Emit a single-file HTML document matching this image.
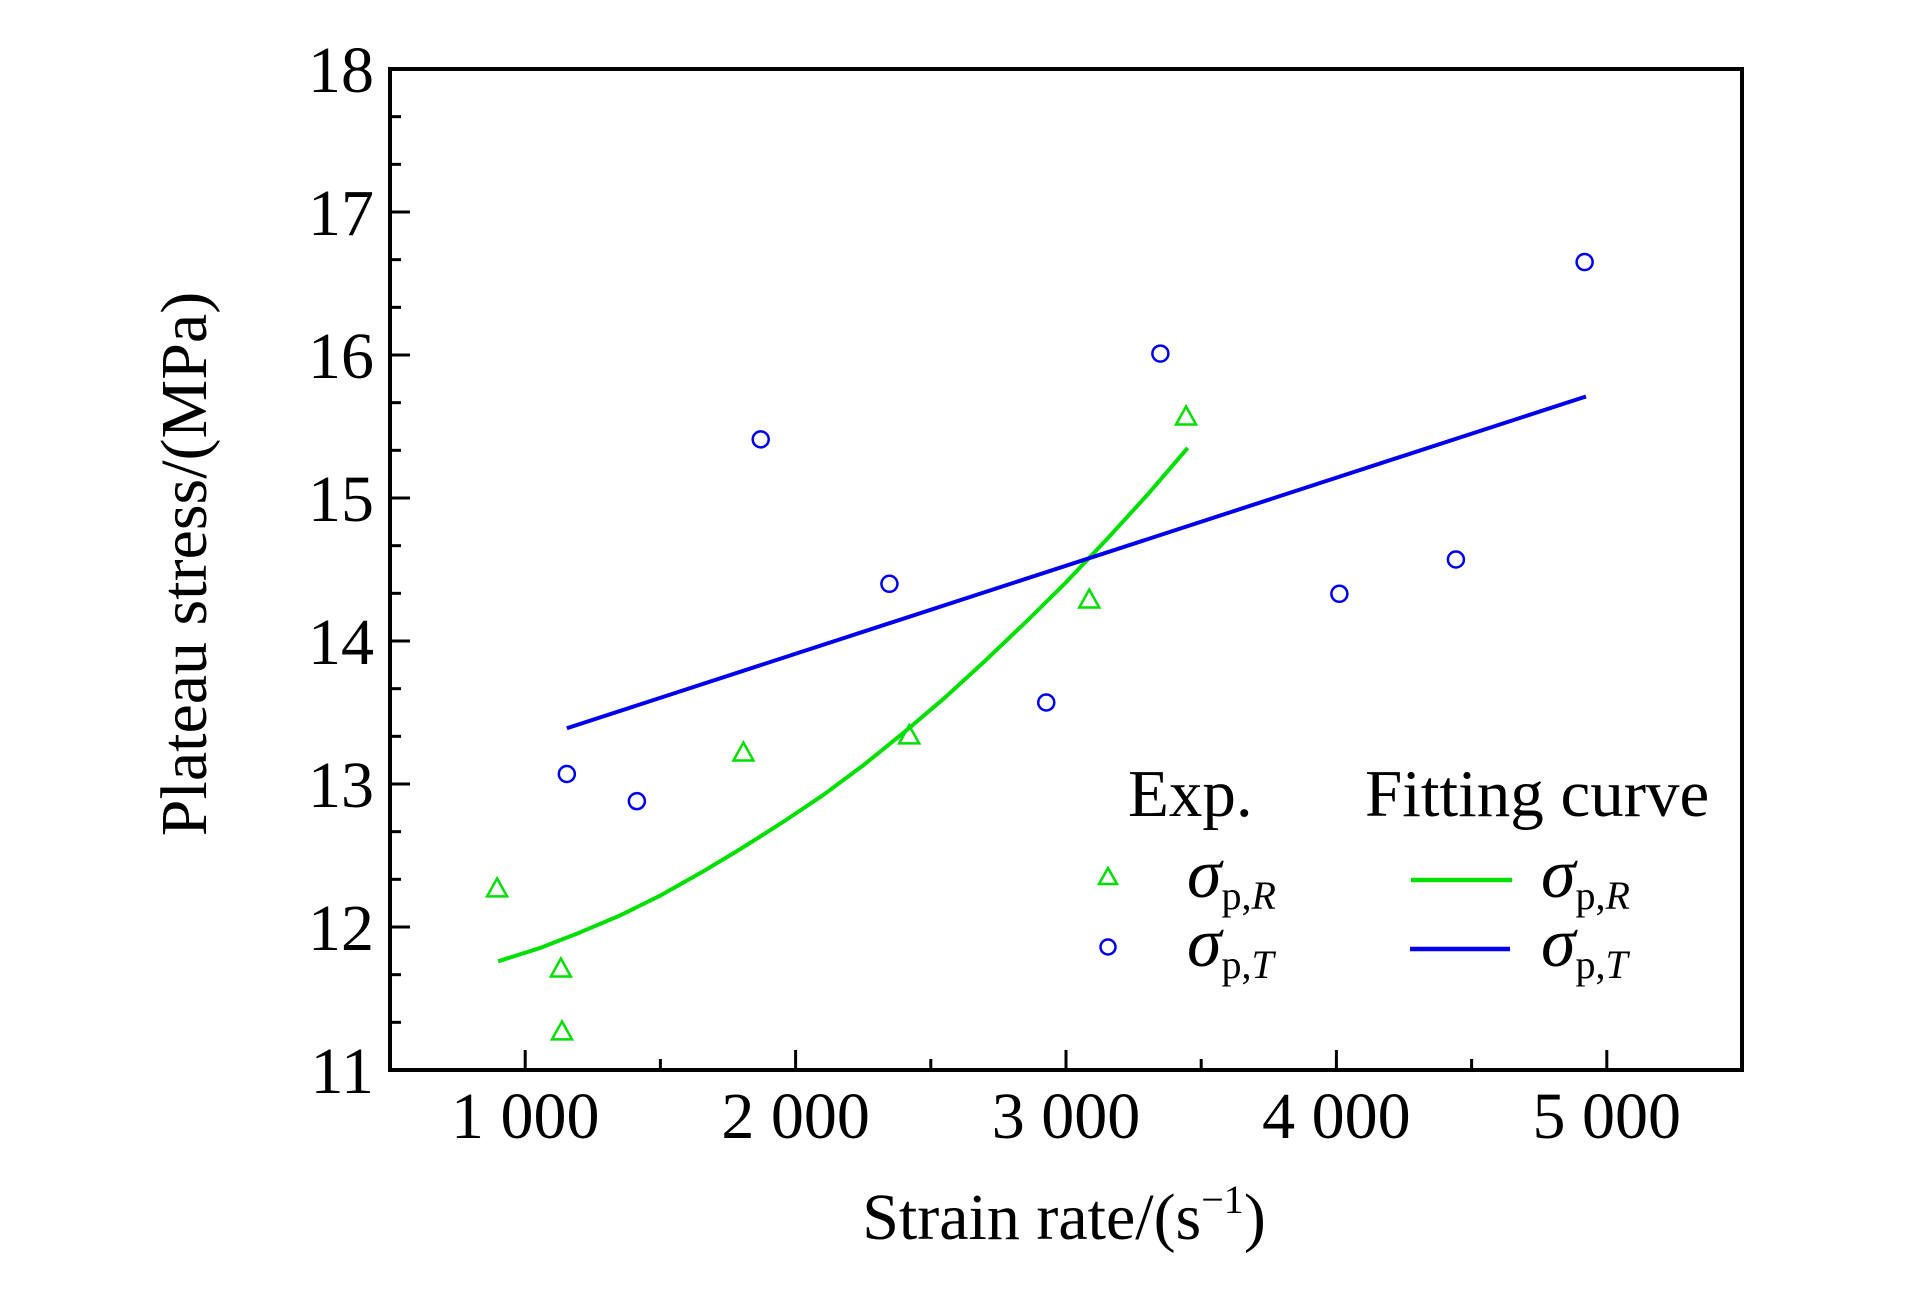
<!DOCTYPE html>
<html><head><meta charset="utf-8"><style>
html,body{margin:0;padding:0;background:#fff;}
svg{display:block;font-family:"Liberation Serif",serif;}
</style></head><body>
<svg id="chart" width="1923" height="1299" viewBox="0 0 1923 1299">
<g id="ticks"></g>
<g id="marks"></g>
<rect x="390" y="69" width="1352" height="1001" fill="none" stroke="#000" stroke-width="4"/>
<text x="1064" y="1239" font-size="66" text-anchor="middle">Strain rate/(s<tspan dy="-26" font-size="40">−1</tspan><tspan dy="26">)</tspan></text>
<text transform="translate(206,564) rotate(-90)" font-size="66" text-anchor="middle">Plateau stress/(MPa)</text>
<g>
<text x="1128" y="816" font-size="67">Exp.</text>
<text x="1365" y="816" font-size="67">Fitting curve</text>
<polygon points="1108,868 1117,884 1099,884" fill="none" stroke="#00e000" stroke-width="2.5"/>
<circle cx="1108" cy="947" r="7.5" fill="none" stroke="#0000ee" stroke-width="2.5"/>
<text x="1187" y="897" font-size="70" font-style="italic">σ<tspan dy="12" font-size="40" font-style="normal">p,<tspan font-style="italic">R</tspan></tspan></text>
<text x="1187" y="966" font-size="70" font-style="italic">σ<tspan dy="12" font-size="40" font-style="normal">p,<tspan font-style="italic">T</tspan></tspan></text>
<line x1="1411" y1="880" x2="1512" y2="880" stroke="#00e000" stroke-width="4.5"/>
<line x1="1410" y1="949" x2="1510" y2="949" stroke="#0000ee" stroke-width="4.5"/>
<text x="1541" y="897" font-size="70" font-style="italic">σ<tspan dy="12" font-size="40" font-style="normal">p,<tspan font-style="italic">R</tspan></tspan></text>
<text x="1541" y="966" font-size="70" font-style="italic">σ<tspan dy="12" font-size="40" font-style="normal">p,<tspan font-style="italic">T</tspan></tspan></text>
</g>
</svg>
<script>
const xTicks=[1000,2000,3000,4000,5000];
const xTickLabels=["1 000","2 000","3 000","4 000","5 000"];
const yTicks=[11,12,13,14,15,16,17,18];
const rX=[896,1132,1136,1807,2420,3086,3444];
const rY=[12.27,11.71,11.27,13.22,13.34,14.29,15.57];
const tX=[1154,1413,1871,2347,2927,3349,4011,4442,4918];
const tY=[13.07,12.88,15.41,14.40,13.57,16.01,14.33,14.57,16.65];
const fitRX=[900,1050,1200,1350,1500,1650,1800,1950,2100,2250,2400,2550,2700,2850,3000,3150,3300,3450];
const fitRY=[11.76,11.85,11.96,12.08,12.22,12.38,12.55,12.73,12.92,13.13,13.36,13.60,13.86,14.13,14.41,14.71,15.02,15.35];
const fitTX=[1154,4923];
const fitTY=[13.39,15.71];

const X0=390,X1=1742,Y0=1070,Y1=69;
function sx(v){return X0+(v-500)/(5500-500)*(X1-X0);}
function sy(v){return Y0-(v-11)/(18-11)*(Y0-Y1);}
const NS="http://www.w3.org/2000/svg";
function mk(t,a,p){const e=document.createElementNS(NS,t);for(const k in a)e.setAttribute(k,a[k]);p.appendChild(e);return e;}
const tg=document.getElementById('ticks');
const mg=document.getElementById('marks');
for(let v=1000;v<=5000;v+=500){
  const major=v%1000===0;
  const l=mk('line',{x1:sx(v),x2:sx(v),y1:Y0,y2:Y0-(major?20:11),stroke:'#000','stroke-width':3},tg);
  
  
}
xTicks.forEach((v,i)=>{
  const t=mk('text',{x:sx(v),y:1138,'font-size':66,'text-anchor':'middle'},tg);
  t.textContent=xTickLabels[i];
  
  
});
for(let k=0;k<=21;k++){
  const v=11+k/3;const major=k%3===0;
  const l=mk('line',{x1:X0,x2:X0+(major?20:11),y1:sy(v),y2:sy(v),stroke:'#000','stroke-width':3},tg);
  
  
}
yTicks.forEach(v=>{
  const t=mk('text',{x:374,y:sy(v)+23,'font-size':66,'text-anchor':'end'},tg);
  t.textContent=String(v);
  
  
});
const pr=mk('polyline',{points:fitRX.map((x,i)=>sx(x)+','+sy(fitRY[i])).join(' '),fill:'none',stroke:'#00e000','stroke-width':4,'stroke-linejoin':'round'},mg);


const pt=mk('polyline',{points:fitTX.map((x,i)=>sx(x)+','+sy(fitTY[i])).join(' '),fill:'none',stroke:'#0000ee','stroke-width':4},mg);


rX.forEach((x,i)=>{
  const cx=sx(x),cy=sy(rY[i]);
  const p=mk('polygon',{points:`${cx},${cy-10} ${cx+10},${cy+8} ${cx-10},${cy+8}`,fill:'none',stroke:'#00e000','stroke-width':2.5},mg);
  
  
});
tX.forEach((x,i)=>{
  const c=mk('circle',{cx:sx(x),cy:sy(tY[i]),r:8,fill:'none',stroke:'#0000ee','stroke-width':2.5},mg);
  
  
});
</script>
</body></html>
